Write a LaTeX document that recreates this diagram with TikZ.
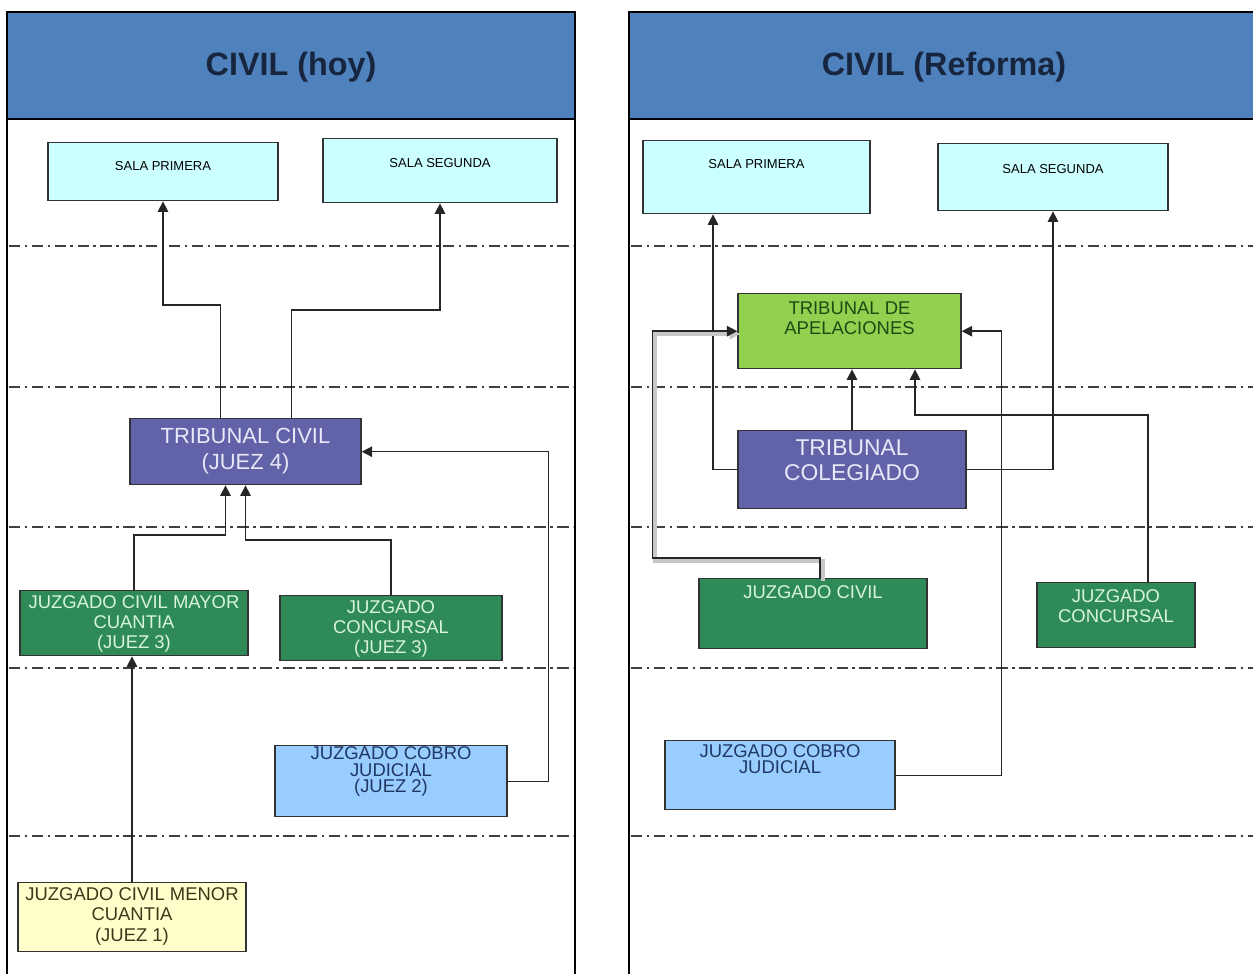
\documentclass[tikz,border=0pt]{standalone}
\usepackage{fontspec}
\setmainfont{Liberation Sans}
\usepackage{xcolor}
\usepackage{tikz}
\usetikzlibrary{arrows.meta,calc}

\definecolor{headblue}{HTML}{4F81BD}
\definecolor{titletext}{HTML}{17253F}
\definecolor{salacyan}{HTML}{CCFFFF}
\definecolor{juzgreen}{HTML}{2E8B57}
\definecolor{juztext}{HTML}{D8F5D8}
\definecolor{tribpurple}{HTML}{6262A8}
\definecolor{tribtext}{HTML}{E8E8F8}
\definecolor{apelgreen}{HTML}{92D050}
\definecolor{apeltext}{HTML}{1E4A14}
\definecolor{cobroblue}{HTML}{99CCFF}
\definecolor{cobrotext}{HTML}{1F3864}
\definecolor{menoryellow}{HTML}{FFFFCC}
\definecolor{menortext}{HTML}{3A3A1A}

\begin{document}
\begin{tikzpicture}[x=0.02cm,y=-0.02cm,
  caja/.style={draw=black!80,line width=0.8pt,inner xsep=2pt,inner ysep=0pt,align=center,anchor=north},
  sala/.style={caja,fill=salacyan,font=\fontsize{7.4}{8}\selectfont},
  juzg/.style={caja,fill=juzgreen,text=juztext,font=\fontsize{10.5}{11.6}\selectfont},
  trib/.style={caja,fill=tribpurple,text=tribtext},
  conn/.style={draw=black!85,line width=0.8pt,-{Triangle[length=6pt,width=6pt]}},
  divline/.style={draw=black!75,line width=1pt,dash pattern=on 6.5pt off 2.5pt on 1.5pt off 2.5pt},
  titulo/.style={text=titletext,font=\fontsize{18.4}{20}\selectfont\bfseries}]
\useasboundingbox (0,0) rectangle (1253,973);

\fill[white] (0,0) rectangle (1253,973);
\draw[line width=1.6pt] (7,12) rectangle (575,990);
\draw[line width=1.6pt,fill=headblue] (7,12) rectangle (575,119);
\draw[line width=1.6pt] (1270,12) -- (629,12) -- (629,990);
\draw[line width=1.6pt,fill=headblue] (1270,12) -- (629,12) -- (629,119) -- (1270,119);
\foreach \y in {246,387,527,668,836} {
  \draw[divline] (9,\y) -- (573,\y);
  \draw[divline] (631,\y) -- (1253,\y);
}

\node[titulo] (tituloHoy) at (291,67) {CIVIL (hoy)};
\node[titulo] (tituloRef) at (944,67) {CIVIL (Reforma)};

% hoy
\node[sala,minimum width=4.6cm,text height=0.55cm,text depth=0.61cm] (salaI) at (163,142) {SALA PRIMERA};
\node[sala,minimum width=4.68cm,text height=0.57cm,text depth=0.71cm] (salaII) at (440,138) {SALA SEGUNDA};
\node[trib,font=\fontsize{12.5}{14.7}\selectfont,minimum width=4.62cm,text height=1.017cm,text depth=0.303cm] (tribCivil) at (245.5,418) {TRIBUNAL CIVIL\\(JUEZ 4)};
\node[juzg,minimum width=4.56cm,text height=1.166cm,text depth=0.134cm] (mayor) at (134,590) {JUZGADO CIVIL MAYOR\\CUANTIA\\(JUEZ 3)};
\node[juzg,minimum width=4.44cm,text height=1.166cm,text depth=0.134cm] (concI) at (391,595) {JUZGADO\\CONCURSAL\\(JUEZ 3)};
\node[caja,fill=cobroblue,text=cobrotext,font=\fontsize{10.5}{9.6}\selectfont,minimum width=4.64cm,text height=0.945cm,text depth=0.475cm] (cobroI) at (391,745) {JUZGADO COBRO\\JUDICIAL\\(JUEZ 2)};
\node[caja,fill=menoryellow,text=menortext,font=\fontsize{10.5}{11.6}\selectfont,minimum width=4.56cm,text height=1.166cm,text depth=0.214cm] (menor) at (132,882) {JUZGADO CIVIL MENOR\\CUANTIA\\(JUEZ 1)};

\draw[conn] ($(tribCivil.north)+(-25,0)$) -- ++(0,-113) -| (salaI.south);
\draw[conn] ($(tribCivil.north)+(46,0)$) -- ++(0,-108) -| (salaII.south);
\draw[conn] (cobroI.east) -- ++(41,0) |- (tribCivil.east);
\draw[conn] (mayor.north) -- ++(0,-55) -| ($(tribCivil.south)+(-20,0)$);
\draw[conn] (concI.north) -- ++(0,-55) -| (tribCivil.south);
\draw[conn] (menor.north) -- (menor.north |- mayor.south);

% reforma
\node[sala,minimum width=4.54cm,text height=0.55cm,text depth=0.91cm] (salaIR) at (756.5,140) {SALA PRIMERA};
\node[sala,minimum width=4.6cm,text height=0.59cm,text depth=0.75cm] (salaIIR) at (1053,143) {SALA SEGUNDA};
\node[caja,fill=apelgreen,text=apeltext,font=\fontsize{10.5}{11.3}\selectfont,minimum width=4.46cm,text height=0.807cm,text depth=0.693cm] (apel) at (849.5,293) {TRIBUNAL DE\\APELACIONES};
\node[trib,font=\fontsize{13}{14.2}\selectfont,minimum width=4.56cm,text height=0.999cm,text depth=0.561cm] (coleg) at (852,430) {TRIBUNAL\\COLEGIADO};
\node[juzg,minimum width=4.56cm,text height=0.39cm,text depth=1.01cm] (civilR) at (813,578) {JUZGADO CIVIL};
\node[juzg,minimum width=3.16cm,text height=0.798cm,text depth=0.502cm] (concR) at (1116,582) {JUZGADO\\CONCURSAL};
\node[caja,fill=cobroblue,text=cobrotext,font=\fontsize{10.5}{9.1}\selectfont,minimum width=4.6cm,text height=0.65cm,text depth=0.73cm] (cobroR) at (780,740) {JUZGADO COBRO\\JUDICIAL};

\draw[conn] (coleg.west) -| ($(salaIR.south)+(-43.5,0)$);
\draw[conn] (coleg.east) -| (salaIIR.south);
\draw[conn] (coleg.north) -- (coleg.north |- apel.south);
\draw[conn] ($(concR.north)+(32,0)$) -- ++(0,-167) -| ($(apel.south)+(65.5,0)$);
\draw[conn] (cobroR.east) -- ++(106,0) |- (apel.east);
\draw[conn,preaction={draw=black!22,line width=2.6pt,transform canvas={xshift=1.6pt,yshift=-1.6pt}}]
  ($(civilR.north)+(7,0)$) -- ++(0,-20) -| ($(apel.west)+(-85,0)$) -- (apel.west);
\end{tikzpicture}
\end{document}
